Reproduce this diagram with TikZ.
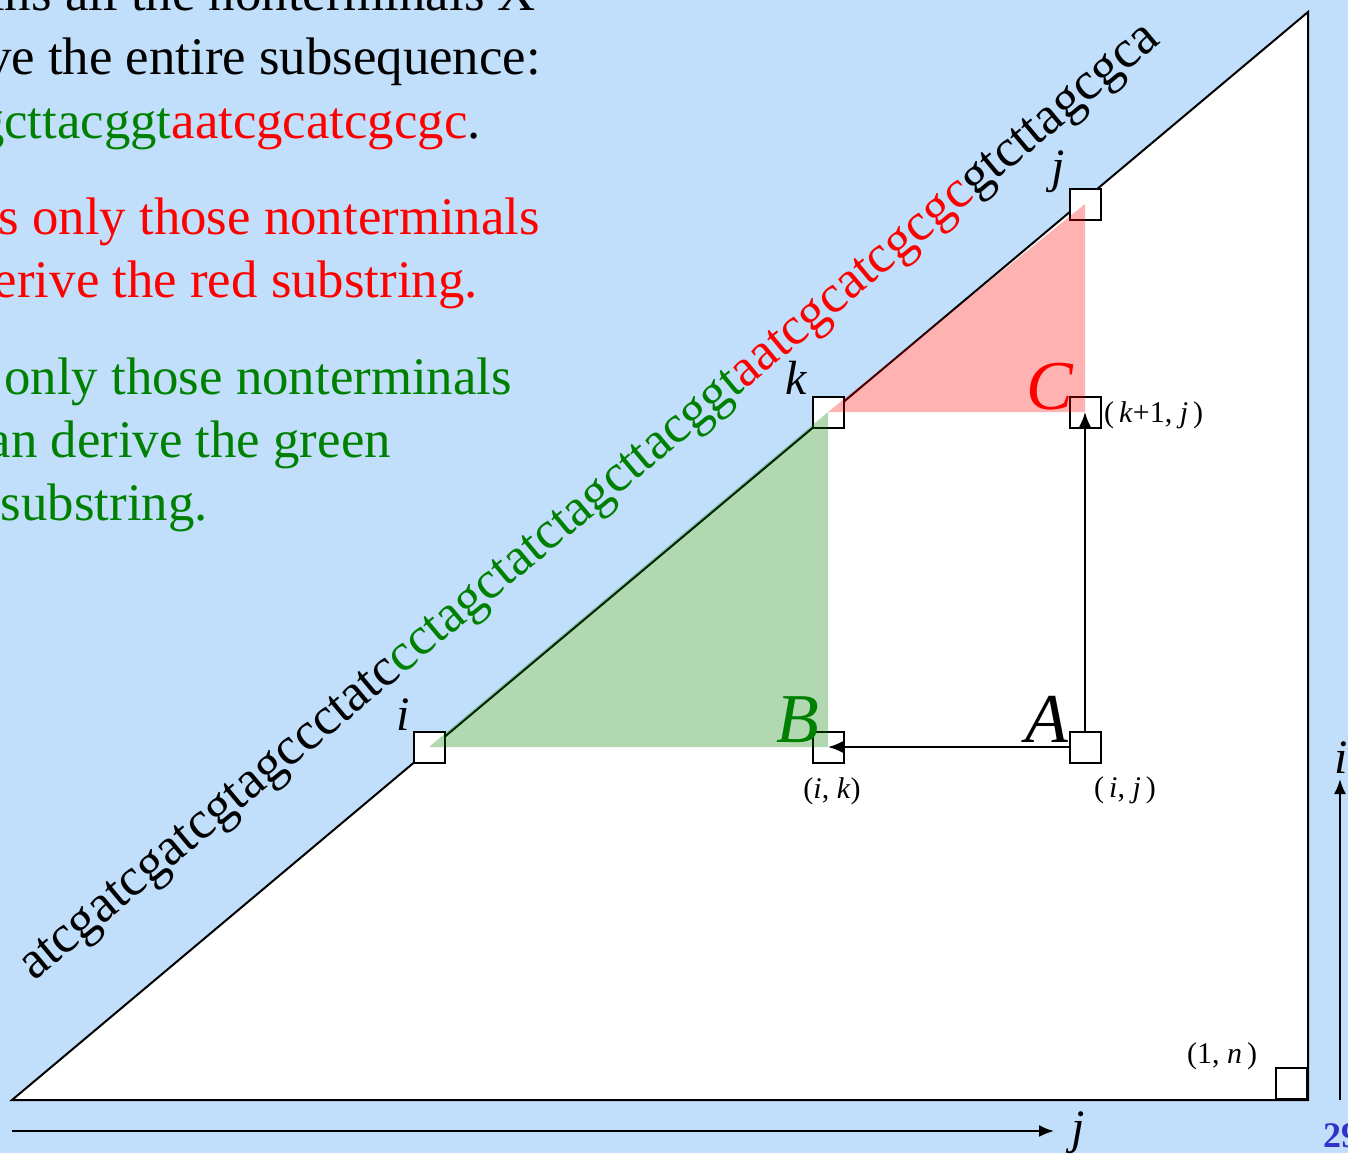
\documentclass[tikz,border=0pt]{standalone}
\usepackage{fontspec}
\setmainfont{Liberation Serif}
\usetikzlibrary{arrows.meta}
\definecolor{bgblue}{RGB}{193,223,251}
\definecolor{dgreen}{RGB}{0,128,0}
\definecolor{numblue}{RGB}{51,51,204}
\begin{document}
\begin{tikzpicture}[x=1pt,y=-1pt,
  cell/.style={draw, fill=white, line width=2pt, minimum size=31pt, inner sep=0pt},
  txt/.style={inner sep=0pt, font=\fontsize{52.8}{63}\selectfont},
  big/.style={inner sep=0pt, font=\fontsize{70}{80}\selectfont\itshape},
  idx/.style={inner sep=0pt, font=\fontsize{48}{56}\selectfont\itshape},
  crd/.style={inner sep=0pt, font=\fontsize{30}{34}\selectfont},
  arr/.style={line width=2pt, -{Latex[length=15pt,width=12pt]}}
]
\fill[bgblue] (0,0) rectangle (1348,1153);
\useasboundingbox (0,0) rectangle (1348,1153);

% top-left text
\node[txt, anchor=base east] (t1) at (536,11) {ins all the nonterminals X};
\node[txt, anchor=base east] (t2) at (541,75) {ve the entire subsequence:};
\node[txt, anchor=base east] (t3) at (481,139) {\textcolor{dgreen}{gcttacggt}\textcolor{red}{aatcgcatcgcgc}.};
\node[txt, anchor=base east, text=red] (t4) at (540,234) {s only those nonterminals};
\node[txt, anchor=base east, text=red] (t5) at (478,297) {erive the red substring.};
\node[txt, anchor=base east, text=dgreen] (t6) at (512,394) {only those nonterminals};
\node[txt, anchor=base east, text=dgreen] (t7) at (391,457) {an derive the green};
\node[txt, anchor=base east, text=dgreen] (t8) at (208,520) {substring.};

% big triangle
\coordinate (BL) at (12,1100);
\coordinate (TR) at (1308,12);
\coordinate (BRc) at (1308,1100);
\draw[fill=white, line width=2pt, line join=miter] (BL) -- (TR) -- (BRc) -- cycle;

% diagonal sequence
\node[inner sep=0pt, font=\fontsize{53.3}{63}\selectfont, rotate=39.8, anchor=base west] (dna) at (34,982)
  {atcgatcgatcgtagccctatc\textcolor{dgreen}{cctagctatctagcttacggt}\textcolor{red}{aatcgcatcgcgc}gtcttagcgca};

% cells
\node[cell] (sqi) at (429,747) {};
\node[cell] (sqik) at (828,747) {};
\node[cell] (sqij) at (1085,747) {};
\node[cell] (sqk) at (828,412) {};
\node[cell] (sqkj) at (1085,412) {};
\node[cell] (sqj) at (1085,204) {};
\node[cell, anchor=south east] (sqn) at (BRc) {};

% coloured regions
\fill[dgreen, opacity=0.3] (sqi.center) -- (sqk.center) -- (sqik.center) -- cycle;
\fill[red, opacity=0.3] (sqk.center) -- (sqj.center) -- (sqkj.center) -- cycle;

% arrows
\draw[arr] (sqij.west) -- (sqik.center);
\draw[arr] (sqij.north) -- (sqkj.center);

% labels
\node[idx, anchor=base] (li) at (403,730) {i};
\node[idx, anchor=base] (lk) at (796,394) {k};
\node[idx, anchor=base] (lj) at (1058,182) {j};
\node[big, anchor=base, text=black] (lA) at (1047,742) {A};
\node[big, anchor=base, text=dgreen] (lB) at (798,742) {B};
\node[big, anchor=base, text=red] (lC) at (1050,409) {C};

\node[crd, anchor=base] (cik) at (832,798) {(\textit{i}, \textit{k})};
\node[crd, anchor=base] (cij) at (1125,797) {(\,\textit{i}, \textit{j}\,)};
\node[crd, anchor=base west] (ckj) at (1104,422) {(\,\textit{k}+1, \textit{j}\,)};
\node[crd, anchor=base] (c1n) at (1222,1063) {(1, \textit{n}\,)};

% axes
\coordinate (ax0) at (12,1131);
\coordinate (ax1) at (1054,1131);
\draw[arr] (ax0) -- (ax1);
\node[idx, anchor=base] (axj) at (1078,1143) {j};
\coordinate (ay0) at (1340,1100);
\coordinate (ay1) at (1340,779);
\draw[arr] (ay0) -- (ay1);
\node[idx, anchor=base] (axi) at (1341,773) {i};

\node[inner sep=0pt, anchor=base west, text=numblue, font=\fontsize{36}{40}\selectfont\bfseries] (pg) at (1323,1147) {29};
\end{tikzpicture}
\end{document}
